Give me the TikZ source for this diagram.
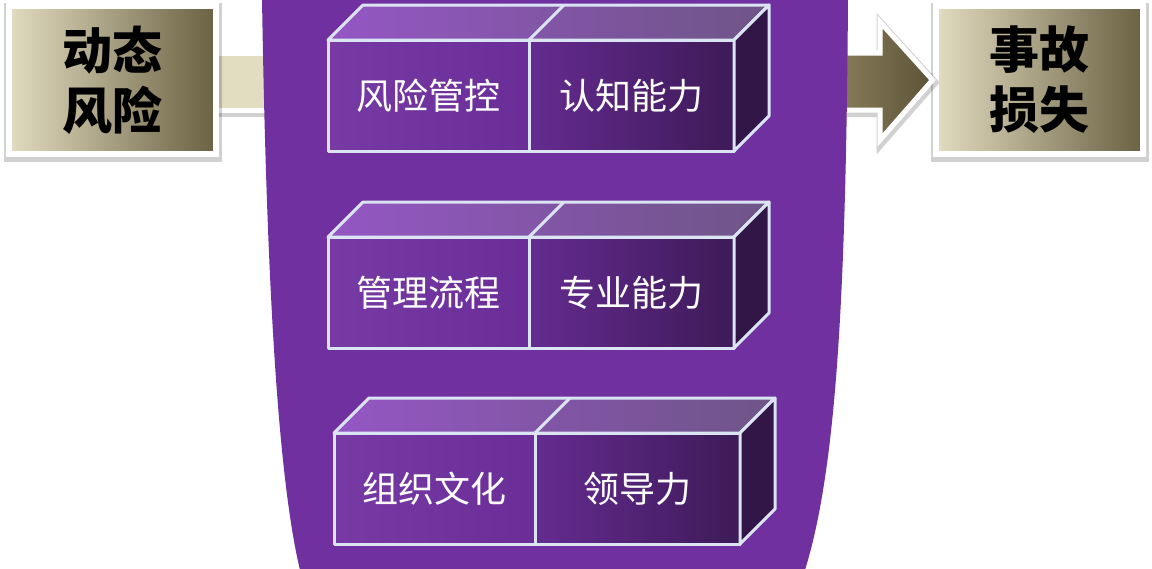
\documentclass[tikz,border=0pt]{standalone}
\usepackage{fontspec}
\usepackage{tikz}
\newfontfamily\cjk{Noto Sans CJK SC}
\definecolor{cup}{HTML}{7030A0}
\definecolor{edge}{HTML}{DBE4F2}
\definecolor{sand}{HTML}{E2DCC0}
\definecolor{sandmid}{HTML}{B4A884}
\definecolor{olive}{HTML}{6B6143}
\definecolor{olivelight}{HTML}{8A7E5C}
\definecolor{olivedark}{HTML}{5C5236}
\definecolor{topleft}{HTML}{9556C4}
\definecolor{topright}{HTML}{6E5587}

\begin{document}
\begin{tikzpicture}[x=1pt, y=-1pt,
  halo/.style={preaction={draw=black, draw opacity=0.18, line width=#1,
    transform canvas={xshift=1pt, yshift=-2.5pt}}},
  riskbox/.style={draw=white, line width=6pt, minimum width=207pt, minimum height=148pt,
    left color=sand, middle color=sandmid, right color=olive, halo=11pt,
    align=center, font=\cjk\bfseries\fontsize{50}{60}\selectfont},
  facebox/.style={draw=edge, line width=3pt, line join=round},
  face/.style={facebox, outer sep=0pt, minimum height=111pt, anchor=north west,
    text=white, font=\cjk\fontsize{36}{40}\selectfont},
  leftface/.style={face, left color=cup!95!white, right color=cup!95!black},
  rightface/.style={face, left color=cup!90!black, right color=cup!55!black},
  topface/.style={left color=topleft, right color=topright},
  sideface/.style={fill=cup!45!black}
  ]
  \useasboundingbox (0,0) rectangle (1152,568);
  \path[draw=white, line width=5pt, fill=sand, halo=9pt] (205,53) rectangle (272,110);
  \node[riskbox] (risk) at (112,80) {动态\\风险};
  \node[riskbox] (loss) at (1039,80) {事故\\损失};
  \path[draw=white, line width=5pt, line join=miter, halo=9pt,
    left color=olivelight, right color=olivedark]
    (835,53) -- (880,53) -- (880,22) -- (loss.west) -- (880,140) -- (880,110) -- (835,110) -- cycle;
  \path[fill=cup] (262,-2) .. controls (266,250) and (276,470) .. (300,570)
    -- (805,570) .. controls (836,470) and (846,300) .. (848,-2) -- cycle;
  \foreach \n/\x/\y/\a/\b in {1/328/40/风险管控/认知能力, 2/328/237/管理流程/专业能力, 3/334/433/组织文化/领导力}{
    \node[leftface, minimum width=201pt] (a\n) at (\x,\y) {\a};
    \node[rightface, minimum width=205pt] (b\n) at (a\n.north east) {\b};
    \path[facebox, topface] (a\n.north west) -- ++(35,-35) -- ([shift={(35,-35)}]b\n.north east)
      -- (b\n.north east) -- cycle;
    \path[facebox, sideface] (b\n.north east) -- ++(35,-35) -- ([shift={(35,-35)}]b\n.south east)
      -- (b\n.south east) -- cycle;
    \draw[facebox] (a\n.north east) -- ++(35,-35);
  }
\end{tikzpicture}
\end{document}
